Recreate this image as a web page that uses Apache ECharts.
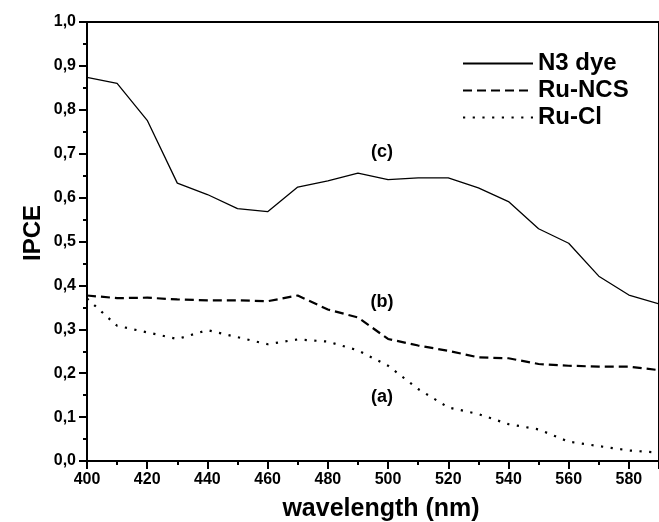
<!DOCTYPE html>
<html>
<head>
<meta charset="utf-8">
<script src="https://cdn.jsdelivr.net/npm/echarts@6/dist/echarts.min.js"></script>
<style>html,body{margin:0;padding:0;background:#fff;}#c{width:659px;height:522px;}</style>
</head>
<body>
<div id="c"></div>
<script>
const wavelengths = [400,410,420,430,440,450,460,470,480,490,500,510,520,530,540,550,560,570,580,590];
const n3Dye =  [0.874,0.860,0.776,0.633,0.607,0.575,0.568,0.624,0.638,0.656,0.641,0.645,0.645,0.622,0.591,0.529,0.496,0.421,0.378,0.358];
const ruNCS =  [0.377,0.371,0.372,0.368,0.366,0.366,0.364,0.377,0.345,0.327,0.278,0.263,0.251,0.236,0.234,0.221,0.217,0.215,0.215,0.207];
const ruCl =   [0.370,0.308,0.293,0.278,0.298,0.282,0.266,0.277,0.272,0.252,0.217,0.164,0.122,0.107,0.084,0.072,0.044,0.034,0.024,0.019];
const seriesNames = ['N3 dye','Ru-NCS','Ru-Cl'];
const annotations = [['(c)',498,0.703],['(b)',498,0.361],['(a)',498,0.145]];
const xTitle = 'wavelength (nm)';
const yTitle = 'IPCE';

const FONT = 'Arial, "Liberation Sans", Helvetica, sans-serif';
const pairs = arr => wavelengths.map((w,i)=>[w,arr[i]]);
const chart = echarts.init(document.getElementById('c'), null, {renderer:'canvas'});
const axisCommon = {
  axisLine:{show:true,onZero:false,lineStyle:{color:'#000',width:2}},
  axisTick:{show:true,inside:false,length:8,lineStyle:{color:'#000',width:2}},
  minorTick:{show:true,splitNumber:2,length:4,lineStyle:{color:'#000',width:2}},
  splitLine:{show:false},
  axisLabel:{color:'#000',fontFamily:FONT,fontWeight:'bold',fontSize:16}
};
chart.setOption({
  animation:false,
  backgroundColor:'#fff',
  grid:{left:87,top:22,width:575,height:439,show:true,borderColor:'#000',borderWidth:2,backgroundColor:'transparent'},
  legend:{
    orient:'vertical',left:457,top:45,itemWidth:70,itemHeight:14,itemGap:0,
    data:seriesNames,
    itemStyle:{opacity:0},
    textStyle:{color:'#000',fontFamily:FONT,fontWeight:'bold',fontSize:24,lineHeight:27,padding:[0,0,0,0]},
  },
  xAxis:Object.assign({},axisCommon,{
    type:'value',min:400,max:590,interval:20,
    axisLabel:Object.assign({},axisCommon.axisLabel,{margin:11,showMaxLabel:false})
  }),
  yAxis:Object.assign({},axisCommon,{
    type:'value',min:0,max:1,interval:0.1,
    axisLabel:Object.assign({},axisCommon.axisLabel,{margin:11,formatter:v=>v.toFixed(1).replace('.',',')})
  }),
  graphic:[
    {type:'text',x:33,y:233,rotation:Math.PI/2,style:{text:yTitle,font:'bold 24px '+FONT,fill:'#000',align:'center',verticalAlign:'middle'}},
    {type:'text',x:381,y:509,style:{text:xTitle,font:'bold 25px '+FONT,fill:'#000',align:'center',verticalAlign:'middle'}}
  ],
  series:[
    {name:seriesNames[0],type:'line',data:pairs(n3Dye),symbol:'none',lineStyle:{color:'#000',width:1.3,type:'solid'},itemStyle:{color:'#000'}},
    {name:seriesNames[1],type:'line',data:pairs(ruNCS),symbol:'none',lineStyle:{color:'#000',width:2.2,type:[9,5]},itemStyle:{color:'#000'}},
    {name:seriesNames[2],type:'line',data:pairs(ruCl),symbol:'none',lineStyle:{color:'#000',width:2.2,type:[2.2,7.5]},itemStyle:{color:'#000'}},
    {name:'labels',type:'scatter',symbolSize:0,silent:true,itemStyle:{opacity:1,color:'#000'},
     data:annotations.map(a=>({name:a[0],value:[a[1],a[2]]})),
     label:{show:true,position:'inside',formatter:p=>p.name,color:'#000',opacity:1,fontFamily:FONT,fontWeight:'bold',fontSize:18}}
  ]
});
</script>
</body>
</html>
